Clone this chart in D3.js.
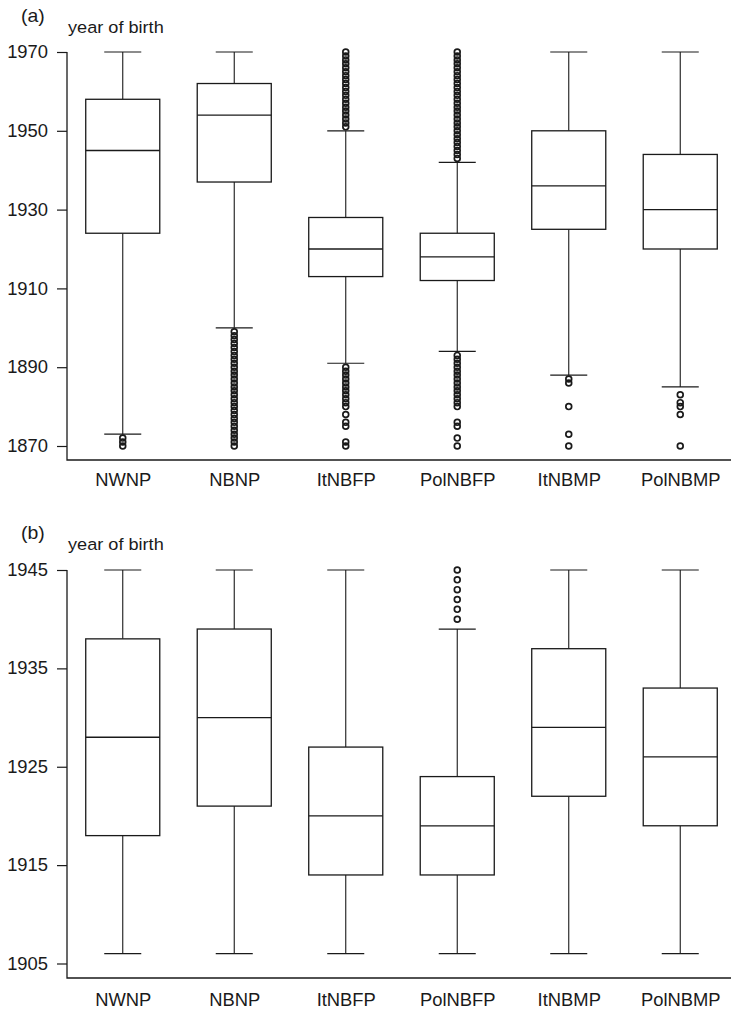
<!DOCTYPE html>
<html>
<head>
<meta charset="utf-8">
<script src="https://cdn.jsdelivr.net/npm/d3@7"></script>
<style>
  html, body { margin: 0; padding: 0; background: #fff; }
  svg { display: block; }
  text { font-family: "Liberation Sans", Arial, Helvetica, sans-serif; fill: #1a1a1a; }
</style>
</head>
<body>
<svg id="chart" width="731" height="1011"></svg>
<script>
// ---------- data ----------
const categories = ["NWNP", "NBNP", "ItNBFP", "PolNBFP", "ItNBMP", "PolNBMP"];

// Panel (a)
const aTicks = [1870, 1890, 1910, 1930, 1950, 1970];
const aWhiskerLow  = [1873, 1900, 1891, 1894, 1888, 1885];
const aQ1          = [1924, 1937, 1913, 1912, 1925, 1920];
const aMedian      = [1945, 1954, 1920, 1918, 1936, 1930];
const aQ3          = [1958, 1962, 1928, 1924, 1950, 1944];
const aWhiskerHigh = [1970, 1970, 1950, 1942, 1970, 1970];
const aOutliers = [
  [1870, 1871, 1872],
  [1870, 1871, 1872, 1873, 1874, 1875, 1876, 1877, 1878, 1879, 1880, 1881, 1882, 1883, 1884,
   1885, 1886, 1887, 1888, 1889, 1890, 1891, 1892, 1893, 1894, 1895, 1896, 1897, 1898, 1899],
  [1870, 1871, 1875, 1876, 1878, 1880, 1881, 1882, 1883, 1884, 1885, 1886, 1887, 1888, 1889, 1890,
   1951, 1952, 1953, 1954, 1955, 1956, 1957, 1958, 1959, 1960, 1961, 1962, 1963, 1964, 1965,
   1966, 1967, 1968, 1969, 1970],
  [1870, 1872, 1875, 1876, 1880, 1881, 1882, 1883, 1884, 1885, 1886, 1887, 1888, 1889, 1890,
   1891, 1892, 1893,
   1943, 1944, 1945, 1946, 1947, 1948, 1949, 1950, 1951, 1952, 1953, 1954, 1955, 1956, 1957,
   1958, 1959, 1960, 1961, 1962, 1963, 1964, 1965, 1966, 1967, 1968, 1969, 1970],
  [1870, 1873, 1880, 1886, 1887],
  [1870, 1878, 1880, 1881, 1883]
];

// Panel (b)
const bTicks = [1905, 1915, 1925, 1935, 1945];
const bWhiskerLow  = [1906, 1906, 1906, 1906, 1906, 1906];
const bQ1          = [1918, 1921, 1914, 1914, 1922, 1919];
const bMedian      = [1928, 1930, 1920, 1919, 1929, 1926];
const bQ3          = [1938, 1939, 1927, 1924, 1937, 1933];
const bWhiskerHigh = [1945, 1945, 1945, 1939, 1945, 1945];
const bOutliers = [
  [], [], [], [1940, 1941, 1942, 1943, 1944, 1945], [], []
];

// ---------- drawing ----------
const svg = d3.select("#chart");
const ink = "#1a1a1a";
const fontSize = 17.5;
const stretch = 1.05;

const x = d3.scalePoint().domain(categories).range([67, 736]).padding(0.5);
const step = x.step();
const boxW = step * 0.664;
const capW = boxW / 2;

function panel(cfg) {
  const g = svg.append("g");
  const y = d3.scaleLinear().domain(cfg.domain).range(cfg.range);

  // panel label and axis title (slightly wide type, as in the original)
  g.append("text").attr("transform", `translate(21,${cfg.labelY}) scale(1.08,1)`)
    .style("font-size", "18px").text(cfg.label);
  g.append("text").attr("transform", `translate(68,${cfg.titleY}) scale(1.1,1)`)
    .style("font-size", "16.5px").text("year of birth");

  // y axis
  const yAxis = d3.axisLeft(y).tickValues(cfg.ticks).tickSize(10).tickPadding(9)
    .tickFormat(d3.format("d"));
  const ag = g.append("g").attr("transform", "translate(67,0)").call(yAxis);
  ag.select(".domain").remove();
  ag.selectAll(".tick line").attr("stroke", ink).attr("stroke-width", 1.2);
  ag.selectAll(".tick text").style("font-size", fontSize + "px").attr("fill", ink)
    .style("font-family", '"Liberation Sans", Arial, sans-serif')
    .attr("x", -19 / stretch)
    .attr("transform", `scale(${stretch},1)`);
  // L-shaped frame: left vertical + bottom horizontal
  const top = y(cfg.domain[1]);
  g.append("path")
    .attr("d", `M67,${top}V${cfg.baseY}H731`)
    .attr("fill", "none").attr("stroke", ink).attr("stroke-width", 1.3);

  // x category labels
  const xAxis = d3.axisBottom(x).tickSize(0).tickPadding(0);
  const xg = g.append("g").attr("transform", `translate(0,${cfg.baseY})`).call(xAxis);
  xg.select(".domain").remove();
  xg.selectAll(".tick text").attr("y", cfg.catDy).attr("dy", 0)
    .style("font-size", fontSize + "px").attr("fill", ink)
    .style("font-family", '"Liberation Sans", Arial, sans-serif')
    .attr("transform", `scale(${stretch},1)`);

  const rows = categories.map((c, i) => ({
    c, lo: cfg.lo[i], q1: cfg.q1[i], med: cfg.med[i], q3: cfg.q3[i], hi: cfg.hi[i], out: cfg.out[i]
  }));

  const bg = g.selectAll("g.box").data(rows).enter().append("g").attr("class", "box")
    .attr("transform", d => `translate(${x(d.c)},0)`);

  // whisker stems
  bg.append("line").attr("x1", 0).attr("x2", 0)
    .attr("y1", d => y(d.q3)).attr("y2", d => y(d.hi))
    .attr("stroke", ink).attr("stroke-width", 1.1);
  bg.append("line").attr("x1", 0).attr("x2", 0)
    .attr("y1", d => y(d.q1)).attr("y2", d => y(d.lo))
    .attr("stroke", ink).attr("stroke-width", 1.1);
  // caps
  bg.append("line").attr("x1", -capW / 2).attr("x2", capW / 2)
    .attr("y1", d => y(d.hi)).attr("y2", d => y(d.hi))
    .attr("stroke", ink).attr("stroke-width", 1.2);
  bg.append("line").attr("x1", -capW / 2).attr("x2", capW / 2)
    .attr("y1", d => y(d.lo)).attr("y2", d => y(d.lo))
    .attr("stroke", ink).attr("stroke-width", 1.2);
  // box
  bg.append("rect").attr("x", -boxW / 2).attr("width", boxW)
    .attr("y", d => y(d.q3)).attr("height", d => y(d.q1) - y(d.q3))
    .attr("fill", "#fff").attr("stroke", ink).attr("stroke-width", 1.3);
  // median
  bg.append("line").attr("x1", -boxW / 2).attr("x2", boxW / 2)
    .attr("y1", d => y(d.med)).attr("y2", d => y(d.med))
    .attr("stroke", ink).attr("stroke-width", 1.3);
  // outliers
  bg.selectAll("circle").data(d => d.out).enter().append("circle")
    .attr("cx", 0).attr("cy", v => y(v)).attr("r", 2.9)
    .attr("fill", "none").attr("stroke", ink).attr("stroke-width", 1.7);
}

panel({
  label: "(a)", labelY: 22, titleY: 33,
  domain: [1870, 1970], range: [446, 52], ticks: aTicks, baseY: 460, catDy: 26,
  lo: aWhiskerLow, q1: aQ1, med: aMedian, q3: aQ3, hi: aWhiskerHigh, out: aOutliers
});
panel({
  label: "(b)", labelY: 539, titleY: 550,
  domain: [1905, 1945], range: [963.5, 570], ticks: bTicks, baseY: 978, catDy: 28,
  lo: bWhiskerLow, q1: bQ1, med: bMedian, q3: bQ3, hi: bWhiskerHigh, out: bOutliers
});
</script>
</body>
</html>
